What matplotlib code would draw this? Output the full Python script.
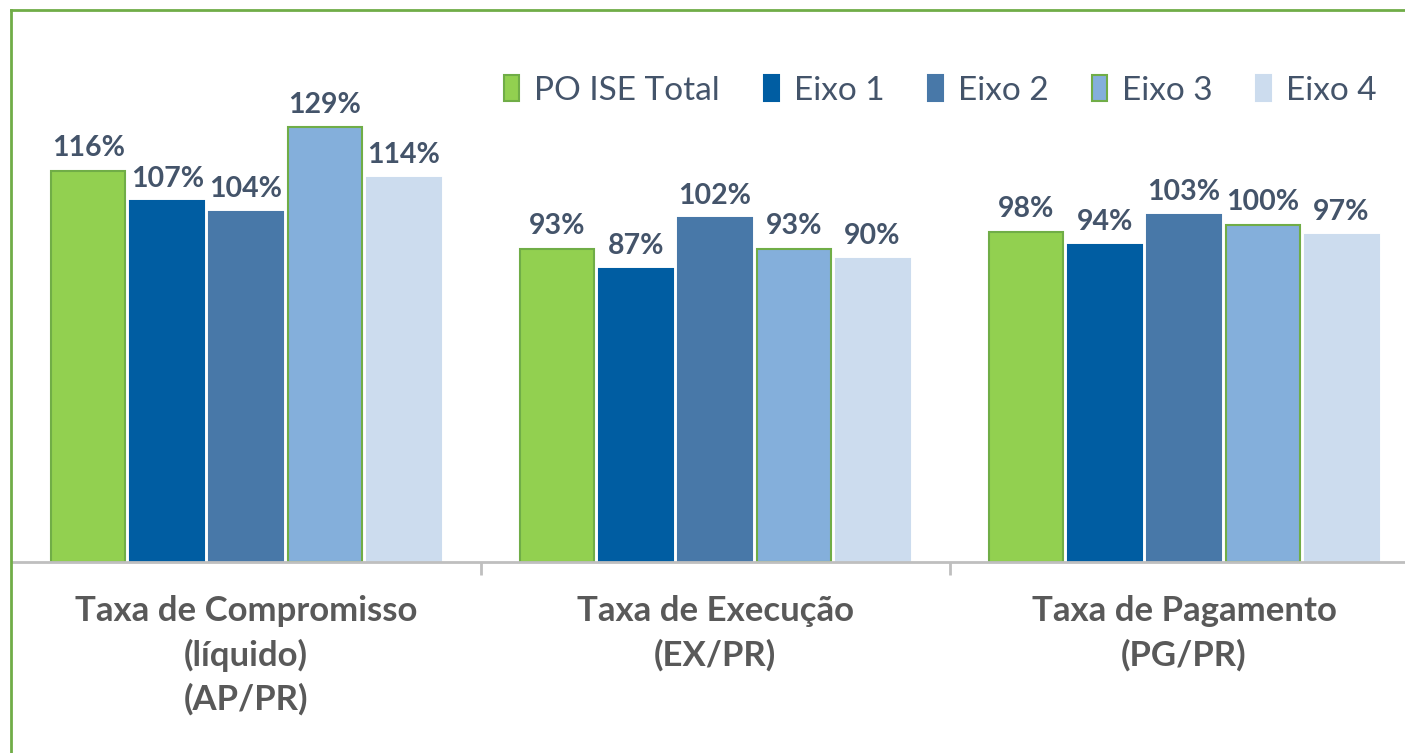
import matplotlib

matplotlib.use("Agg")
import matplotlib.pyplot as plt
from matplotlib.lines import Line2D
import numpy as np

categories = ["Taxa de Compromisso\n(líquido)\n(AP/PR)", "Taxa de Execução\n(EX/PR)", "Taxa de Pagamento\n(PG/PR)"]
series = ["PO ISE Total", "Eixo 1", "Eixo 2", "Eixo 3", "Eixo 4"]
po_ise_total = [116, 93, 98]
eixo_1 = [107, 87, 94]
eixo_2 = [104, 102, 103]
eixo_3 = [129, 93, 100]
eixo_4 = [114, 90, 97]

values = [po_ise_total, eixo_1, eixo_2, eixo_3, eixo_4]
colors = ["#92D050", "#005DA2", "#4878A8", "#84AFDB", "#CCDCEE"]
edges = ["#70AD47", "#005DA2", "#4878A8", "#70AD47", "#CCDCEE"]
LABEL_COLOR = "#44546A"
CAT_COLOR = "#595959"

plt.rcParams["font.family"] = ["Lato", "DejaVu Sans"]

W, H = 1405, 753
fig = plt.figure(figsize=(W / 100, H / 100), dpi=100)
ax = fig.add_axes([11.5 / W, (H - 562) / H, 1407 / W, 542 / H])

x = np.arange(len(categories))
step, width = 0.168, 0.158
for i, (name, vals) in enumerate(zip(series, values)):
    pos = x + (i - 2) * step
    bars = ax.bar(pos, vals, width, color=colors[i], edgecolor=edges[i], linewidth=1.5, label=name)
    for b, v in zip(bars, vals):
        ax.annotate(f"{v}%", (b.get_x() + b.get_width() / 2, v), xytext=(0, 7), textcoords="offset points",
                    ha="center", va="bottom", fontsize=20.5, fontweight="bold", color=LABEL_COLOR)

ax.set_xlim(-0.5, 2.5)
ax.set_ylim(0, 542 / 3.37)
ax.set_yticks([])
for side in ("top", "right", "left"):
    ax.spines[side].set_visible(False)
ax.spines["bottom"].set_color("#BFBFBF")
ax.spines["bottom"].set_linewidth(2)

ax.set_xticks(x)
ax.set_xticklabels(categories, fontsize=25, fontweight="bold", color=CAT_COLOR, linespacing=1.42)
ax.tick_params(axis="x", which="major", length=0, pad=24)
ax.set_xticks([0.5, 1.5], minor=True)
ax.tick_params(axis="x", which="minor", length=9, width=2, color="#BFBFBF")

leg = ax.legend(loc="upper right", bbox_to_anchor=(1378 / 1407, 1 - 42 / 542), ncol=5, frameon=False,
                fontsize=24, handlelength=0.45, handleheight=0.8, handletextpad=0.45, columnspacing=1.3,
                borderaxespad=0)
for t in leg.get_texts():
    t.set_color(LABEL_COLOR)

# green frame around the chart area (left and top edges visible)
green = "#70AD47"
fig.add_artist(Line2D([11 / W, 11 / W], [0, 1 - 10 / H], color=green, linewidth=2))
fig.add_artist(Line2D([11 / W, 1], [1 - 10 / H, 1 - 10 / H], color=green, linewidth=2))

fig.savefig("out.png", dpi=100)
